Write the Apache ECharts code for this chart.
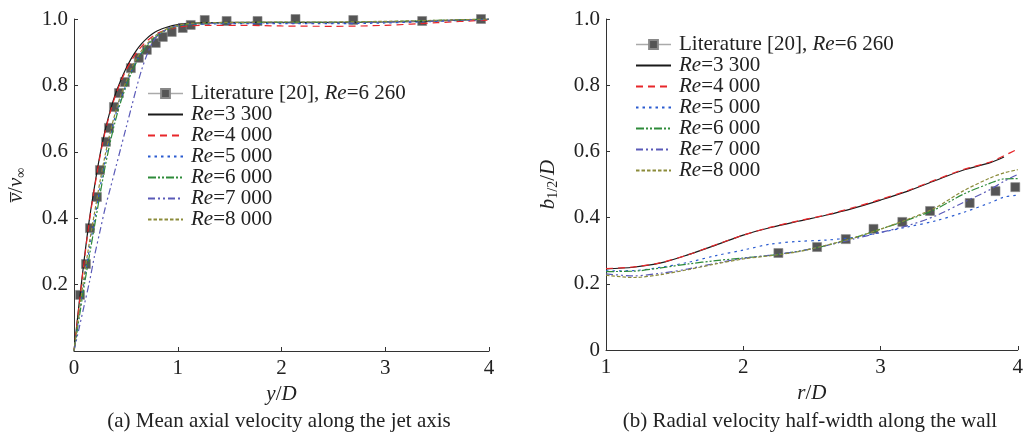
<!DOCTYPE html>
<html>
<head>
<meta charset="utf-8">
<script src="https://cdn.jsdelivr.net/npm/echarts@6/dist/echarts.min.js"></script>
<style>
  html, body { margin: 0; padding: 0; background: #fff; }
  #chart { width: 1026px; height: 434px; }
</style>
</head>
<body>
<div id="chart"></div>
<script>
// --- data: (a) mean axial velocity along the jet axis ---
const axialX = [0, 0.05, 0.1, 0.15, 0.2, 0.25, 0.3, 0.35, 0.4, 0.45, 0.5, 0.55, 0.6, 0.65, 0.7, 0.75, 0.8, 0.9, 1.0, 1.1, 1.3, 1.6, 2.0, 2.5, 3.0, 3.5, 4.0];
const axialRe3300 = [0, 0.145, 0.28, 0.40, 0.50, 0.59, 0.665, 0.725, 0.775, 0.815, 0.85, 0.88, 0.905, 0.925, 0.941, 0.954, 0.964, 0.976, 0.983, 0.986, 0.989, 0.99, 0.99, 0.99, 0.991, 0.994, 1.0];
const axialRe4000 = [0, 0.14, 0.275, 0.395, 0.495, 0.585, 0.66, 0.72, 0.77, 0.81, 0.845, 0.873, 0.897, 0.917, 0.933, 0.946, 0.956, 0.968, 0.975, 0.979, 0.981, 0.981, 0.979, 0.978, 0.981, 0.989, 0.997];
const axialRe5000 = [0, 0.11, 0.215, 0.31, 0.40, 0.49, 0.575, 0.65, 0.71, 0.76, 0.80, 0.84, 0.872, 0.898, 0.92, 0.937, 0.951, 0.969, 0.979, 0.983, 0.985, 0.986, 0.986, 0.986, 0.988, 0.993, 0.999];
const axialRe6000 = [0, 0.10, 0.20, 0.29, 0.38, 0.47, 0.555, 0.63, 0.695, 0.75, 0.795, 0.835, 0.868, 0.895, 0.917, 0.935, 0.949, 0.968, 0.979, 0.984, 0.987, 0.989, 0.99, 0.99, 0.992, 0.996, 1.0];
const axialRe7000 = [0, 0.07, 0.14, 0.21, 0.29, 0.36, 0.43, 0.49, 0.55, 0.61, 0.67, 0.73, 0.79, 0.845, 0.89, 0.925, 0.948, 0.97, 0.981, 0.985, 0.987, 0.988, 0.988, 0.988, 0.991, 0.995, 1.0];
const axialRe8000 = [0, 0.12, 0.23, 0.33, 0.42, 0.51, 0.59, 0.66, 0.72, 0.77, 0.81, 0.85, 0.88, 0.904, 0.924, 0.94, 0.953, 0.971, 0.981, 0.986, 0.989, 0.99, 0.991, 0.991, 0.993, 0.996, 1.0];
const axialLitX = [0.058, 0.115, 0.154, 0.221, 0.25, 0.308, 0.337, 0.385, 0.433, 0.49, 0.548, 0.625, 0.702, 0.788, 0.856, 0.942, 1.048, 1.125, 1.26, 1.471, 1.769, 2.135, 2.692, 3.356, 3.923];
const axialLitY = [0.169, 0.262, 0.37, 0.464, 0.545, 0.63, 0.672, 0.735, 0.777, 0.81, 0.852, 0.883, 0.907, 0.928, 0.946, 0.961, 0.973, 0.982, 0.997, 0.994, 0.994, 1.0, 0.997, 0.994, 1.0];

// --- data: (b) radial velocity half-width along the wall ---
const radialX = [1, 1.2, 1.4, 1.6, 1.8, 2.0, 2.2, 2.4, 2.6, 2.8, 3.0, 3.2, 3.4, 3.6, 3.8, 3.9, 4.0];
const radialRe3300 = [0.245, 0.25, 0.263, 0.288, 0.317, 0.347, 0.37, 0.389, 0.407, 0.428, 0.453, 0.48, 0.512, 0.543, 0.566, 0.583, null];
const radialRe4000 = [0.246, 0.251, 0.264, 0.288, 0.318, 0.347, 0.371, 0.39, 0.408, 0.43, 0.455, 0.482, 0.514, 0.545, 0.568, 0.587, 0.607];
const radialRe5000 = [0.239, 0.24, 0.25, 0.265, 0.285, 0.302, 0.32, 0.328, 0.332, 0.34, 0.355, 0.372, 0.39, 0.415, 0.445, 0.462, 0.468];
const radialRe6000 = [0.237, 0.238, 0.248, 0.26, 0.27, 0.278, 0.286, 0.298, 0.315, 0.338, 0.365, 0.393, 0.425, 0.47, 0.504, 0.517, 0.518];
const radialRe7000 = [0.23, 0.224, 0.232, 0.245, 0.262, 0.277, 0.287, 0.298, 0.315, 0.335, 0.355, 0.376, 0.405, 0.445, 0.485, 0.51, 0.53];
const radialRe8000 = [0.226, 0.219, 0.228, 0.243, 0.26, 0.275, 0.285, 0.297, 0.316, 0.338, 0.365, 0.395, 0.43, 0.48, 0.52, 0.535, 0.545];
const radialLitX = [2.256, 2.538, 2.747, 2.949, 3.159, 3.361, 3.65, 3.838, 3.982];
const radialLitY = [0.293, 0.311, 0.335, 0.366, 0.387, 0.42, 0.444, 0.48, 0.492];

const LIT = 'Literature [20], Re=6 260';
const NAMES = [LIT, 'Re=3 300', 'Re=4 000', 'Re=5 000', 'Re=6 000', 'Re=7 000', 'Re=8 000'];

// 线型: 颜色 + 虚线样式
const STYLES = {
  'Re=3 300': { color: '#1a1a1a', type: 'solid' },
  'Re=4 000': { color: '#e8262a', type: [7, 5] },
  'Re=5 000': { color: '#2a5bd0', type: [2.5, 4] },
  'Re=6 000': { color: '#2e8b3a', type: [8, 2, 2, 2, 2, 2] },
  'Re=7 000': { color: '#5a5ab8', type: [7, 3, 2, 3, 2, 3] },
  'Re=8 000': { color: '#8b8b3a', type: [3.5, 2] }
};

const FONT = '"Liberation Serif", "Times New Roman", serif';
const FS = 21;
const TXT = '#222';

const zip = (xs, ys) => xs.map((x, i) => [x, ys[i]]);

const curve = (name, xs, ys, idx) => ({
  name,
  type: 'line',
  xAxisIndex: idx,
  yAxisIndex: idx,
  data: zip(xs, ys),
  symbol: 'none',
  smooth: 0.3,
  z: 3,
  lineStyle: { color: STYLES[name].color, type: STYLES[name].type, width: 1.2 },
  itemStyle: { color: STYLES[name].color }
});

const literature = (xs, ys, idx) => ({
  name: LIT,
  type: 'line',
  xAxisIndex: idx,
  yAxisIndex: idx,
  data: zip(xs, ys),
  symbol: 'rect',
  symbolSize: 9,
  z: 2,
  itemStyle: { color: '#555', borderColor: '#888', borderWidth: 0.6 },
  lineStyle: { color: '#aaa', opacity: 0 }
});

function richAxis() {
  return {
    i: { fontFamily: FONT, fontSize: FS, fontStyle: 'italic', color: TXT },
    s2: { fontFamily: FONT, fontSize: 14, color: TXT, padding: [9, 0, 0, 0] }
  };
}

const xAxisBase = (idx, min, name) => ({
  type: 'value',
  gridIndex: idx,
  min: min,
  max: 4,
  interval: 1,
  name: name,
  nameLocation: 'middle',
  nameGap: 32,
  nameTextStyle: { fontFamily: FONT, fontSize: FS, color: TXT, rich: richAxis() },
  axisLine: { lineStyle: { color: '#333', width: 1 } },
  axisTick: { inside: true, length: 4, lineStyle: { color: '#333' } },
  axisLabel: { fontFamily: FONT, fontSize: FS, color: TXT, margin: 7 },
  splitLine: { show: false }
});

const yAxisBase = (idx, showZero, name) => ({
  type: 'value',
  gridIndex: idx,
  min: 0,
  max: 1,
  interval: 0.2,
  name: name,
  nameLocation: 'middle',
  nameGap: 46,
  nameTextStyle: { fontFamily: FONT, fontSize: FS, color: TXT, rich: richAxis() },
  axisLine: { show: true, lineStyle: { color: '#333', width: 1 } },
  axisTick: { show: true, inside: true, length: 4, lineStyle: { color: '#333' } },
  axisLabel: {
    fontFamily: FONT, fontSize: FS, color: TXT, margin: 6,
    showMinLabel: showZero,
    formatter: v => (v === 0 ? '0' : v.toFixed(1))
  },
  splitLine: { show: false }
});

const legendBase = (left, top) => ({
  orient: 'vertical',
  left: left,
  top: top,
  itemWidth: 35,
  itemHeight: 11,
  itemGap: 0,
  selectedMode: false,
  data: NAMES.map(n => n === LIT
    ? { name: n, lineStyle: { color: '#aaa', opacity: 1, width: 1.5, type: 'solid' }, itemStyle: { color: '#555' } }
    : { name: n, itemStyle: { color: 'rgba(0,0,0,0)', borderWidth: 0, opacity: 0 } }),
  formatter: name => name.replace('Re', '{i|Re}'),
  textStyle: {
    fontFamily: FONT, fontSize: FS, color: TXT, lineHeight: 21, padding: [0, 0, 0, 3],
    rich: { i: { fontFamily: FONT, fontSize: FS, fontStyle: 'italic', color: TXT, lineHeight: 21 } }
  }
});

const chart = echarts.init(document.getElementById('chart'));

chart.setOption({
  backgroundColor: '#fff',
  animation: false,
  grid: [
    { left: 74, top: 19, width: 415, height: 332 },
    { left: 606, top: 19, width: 415, height: 331 }
  ],
  xAxis: [
    xAxisBase(0, 0, '{i|y}/{i|D}'),
    xAxisBase(1, 1, '{i|r}/{i|D}')
  ],
  yAxis: [
    yAxisBase(0, false, '{i|v\u0305}/{i|v}{s2|\u221e}'),
    yAxisBase(1, true, '{i|b}{s2|1/2}/{i|D}')
  ],
  legend: [legendBase(142, 78), legendBase(630, 29)],
  graphic: [
    {
      type: 'text',
      x: 279, y: 421,
      style: {
        text: '(a) Mean axial velocity along the jet axis',
        font: FS + 'px ' + FONT, fill: TXT, align: 'center', verticalAlign: 'middle'
      }
    },
    {
      type: 'text',
      x: 810, y: 421,
      style: {
        text: '(b) Radial velocity half-width along the wall',
        font: FS + 'px ' + FONT, fill: TXT, align: 'center', verticalAlign: 'middle'
      }
    }
  ],
  series: [
    literature(axialLitX, axialLitY, 0),
    curve('Re=3 300', axialX, axialRe3300, 0),
    curve('Re=4 000', axialX, axialRe4000, 0),
    curve('Re=5 000', axialX, axialRe5000, 0),
    curve('Re=6 000', axialX, axialRe6000, 0),
    curve('Re=7 000', axialX, axialRe7000, 0),
    curve('Re=8 000', axialX, axialRe8000, 0),
    literature(radialLitX, radialLitY, 1),
    curve('Re=3 300', radialX, radialRe3300, 1),
    curve('Re=4 000', radialX, radialRe4000, 1),
    curve('Re=5 000', radialX, radialRe5000, 1),
    curve('Re=6 000', radialX, radialRe6000, 1),
    curve('Re=7 000', radialX, radialRe7000, 1),
    curve('Re=8 000', radialX, radialRe8000, 1)
  ]
});
</script>
</body>
</html>
